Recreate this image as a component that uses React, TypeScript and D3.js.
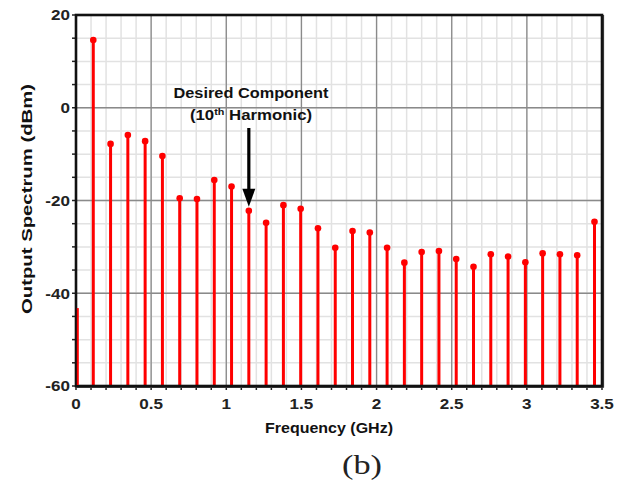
import React from "react";
import * as d3 from "d3";

const frequenciesGHz = [
  0.115, 0.23, 0.345, 0.46, 0.575, 0.69, 0.805, 0.92, 1.035, 1.15,
  1.265, 1.38, 1.495, 1.61, 1.725, 1.84, 1.955, 2.07, 2.185, 2.3,
  2.415, 2.53, 2.645, 2.76, 2.875, 2.99, 3.105, 3.22, 3.335, 3.45,
];
const powerDBm = [
  14.6, -7.8, -5.9, -7.2, -10.4, -19.5, -19.7, -15.6, -17.0, -22.2,
  -24.8, -21.0, -21.8, -26.0, -30.2, -26.6, -26.9, -30.2, -33.4, -31.1,
  -30.9, -32.6, -34.3, -31.6, -32.1, -33.3, -31.4, -31.6, -31.8, -24.6,
];
const dcFreq = [0];
const dcPower = [-43.2];

const xTickValues = [0, 0.5, 1, 1.5, 2, 2.5, 3, 3.5];
const xTickLabels = ["0", "0.5", "1", "1.5", "2", "2.5", "3", "3.5"];
const yTickValues = [20, 0, -20, -40, -60];
const yTickLabels = ["20", "0", "-20", "-40", "-60"];

const xTitle = "Frequency (GHz)";
const yTitle = "Output Spectrum (dBm)";
const annotationLine1 = "Desired Component";
const annotationTarget = 1.15;

const W = 628;
const H = 489;
const L = 76, R = 602, T = 15, B = 386;

export default function App() {
  const x = d3.scaleLinear().domain([0, 3.5]).range([L, R]);
  const y = d3.scaleLinear().domain([-60, 20]).range([B, T]);

  const minorX = d3.range(0, 35.01, 1).map((v) => v / 10);
  const minorY = d3.range(-60, 20.01, 5);
  const font = "'Liberation Sans', Arial, sans-serif";
  const target = frequenciesGHz.indexOf(annotationTarget);
  const tx = x(annotationTarget);
  const ty = y(powerDBm[target]);
  const stretch = (cx: number, s: number) => `translate(${cx},0) scale(${s},1) translate(${-cx},0)`;

  return (
    <svg
      width={W}
      height={H}
      style={{ position: "absolute", left: 0, top: 0, background: "#fff" }}
    >
      <rect x={0} y={0} width={W} height={H} fill="#fff" />
      {minorX.map((v, i) => (
        <line key={"mx" + i} x1={x(v)} x2={x(v)} y1={T} y2={B} stroke="#e2e2e2" strokeWidth={1.5} />
      ))}
      {minorY.map((v, i) => (
        <line key={"my" + i} x1={L} x2={R} y1={y(v)} y2={y(v)} stroke="#e2e2e2" strokeWidth={1.5} />
      ))}
      {xTickValues.map((v, i) => (
        <line key={"Mx" + i} x1={x(v)} x2={x(v)} y1={T} y2={B} stroke="#8a8a8a" strokeWidth={1.3} />
      ))}
      {yTickValues.map((v, i) => (
        <line key={"My" + i} x1={L} x2={R} y1={y(v)} y2={y(v)} stroke="#8a8a8a" strokeWidth={1.3} />
      ))}
      {frequenciesGHz.map((f, i) => (
        <g key={"s" + i}>
          <line x1={x(f)} x2={x(f)} y1={y(powerDBm[i])} y2={B} stroke="#ff0000" strokeWidth={3} />
          <circle cx={x(f)} cy={y(powerDBm[i])} r={3.3} fill="#ff0000" />
        </g>
      ))}
      {minorX.map((v, i) => (
        <line key={"tx" + i} x1={x(v)} x2={x(v)} y1={B} y2={B + 4} stroke="#222" strokeWidth={1.5} />
      ))}
      {minorY.map((v, i) => (
        <line key={"ty" + i} x1={L - 4} x2={L} y1={y(v)} y2={y(v)} stroke="#222" strokeWidth={1.5} />
      ))}
      <rect x={L} y={T} width={R - L} height={B - T} fill="none" stroke="#111" strokeWidth={2.6} />
      <line x1={R + 1.5} x2={R + 1.5} y1={T} y2={B + 1.5} stroke="#333" strokeWidth={1.2} />
      <line x1={L} x2={R + 1.5} y1={B + 1.5} y2={B + 1.5} stroke="#333" strokeWidth={1.2} />
      {dcFreq.map((f, i) => (
        <line key={"dc" + i} x1={x(f) + 1.8} x2={x(f) + 1.8} y1={y(dcPower[i])} y2={B - 1} stroke="#ff0000" strokeWidth={2} />
      ))}
      {xTickValues.map((v, i) => (
        <text key={"xl" + i} x={x(v)} y={409} textAnchor="middle" fontFamily={font} fontWeight="bold" fontSize={15.5} fill="#222" transform={stretch(x(v), 1.1)}>
          {xTickLabels[i]}
        </text>
      ))}
      {yTickValues.map((v, i) => (
        <text key={"yl" + i} x={70} y={y(v) + 5.5} textAnchor="end" fontFamily={font} fontWeight="bold" fontSize={15.5} fill="#222" transform={stretch(70, 1.1)}>
          {yTickLabels[i]}
        </text>
      ))}
      <text x={329} y={433} textAnchor="middle" fontFamily={font} fontWeight="bold" fontSize={14.5} fill="#111" textLength={128} lengthAdjust="spacingAndGlyphs">
        {xTitle}
      </text>
      <text
        transform={`translate(32,199) rotate(-90)`}
        textAnchor="middle"
        fontFamily={font}
        fontWeight="bold"
        fontSize={14.5}
        fill="#111"
        textLength={230}
        lengthAdjust="spacingAndGlyphs"
      >
        {yTitle}
      </text>
      <text x={251} y={98} textAnchor="middle" fontFamily={font} fontWeight="bold" fontSize={14} fill="#111" textLength={155} lengthAdjust="spacingAndGlyphs">
        {annotationLine1}
      </text>
      <g transform={stretch(251, 1.2)}>
        <text x={251} y={120} textAnchor="middle" fontFamily={font} fontWeight="bold" fontSize={14} fill="#111">
          <tspan>(10</tspan>
          <tspan fontSize={9} dy={-5}>th</tspan>
          <tspan dy={5}> Harmonic)</tspan>
        </text>
      </g>
      <line x1={tx} x2={tx} y1={128} y2={ty - 20} stroke="#000" strokeWidth={3.2} />
      <path d={`M${tx - 6.5},${ty - 22} L${tx + 6.5},${ty - 22} L${tx},${ty - 4} Z`} fill="#000" />
      <text x={362} y={474} textAnchor="middle" fontFamily="'Liberation Serif', 'Times New Roman', serif" fontSize={28} fill="#222" textLength={40} lengthAdjust="spacingAndGlyphs">
        (b)
      </text>
    </svg>
  );
}
